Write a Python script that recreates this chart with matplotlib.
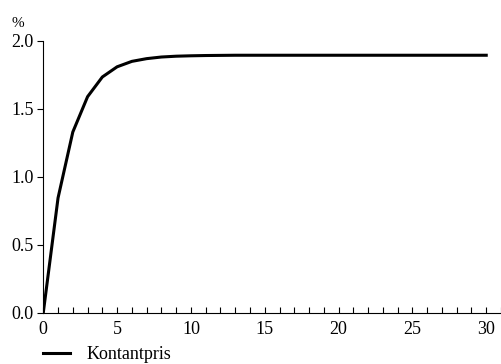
import matplotlib.pyplot as plt
from matplotlib.ticker import MultipleLocator

# kontantpris-kurve
years = list(range(0, 31))
kontantpris = [0.0, 0.845, 1.33, 1.59, 1.735, 1.81, 1.85, 1.87, 1.882, 1.888,
               1.891, 1.893, 1.894, 1.895, 1.895, 1.895, 1.895, 1.895, 1.895,
               1.895, 1.895, 1.895, 1.895, 1.895, 1.895, 1.895, 1.895, 1.895,
               1.895, 1.895, 1.895]

plt.rcParams['font.family'] = ['Liberation Serif', 'DejaVu Serif']
plt.rcParams['font.size'] = 13

fig = plt.figure(figsize=(5.01, 3.64), dpi=100)
ax = fig.add_axes([0.0864, 0.141, 0.9136, 0.7464])

ax.plot(years, kontantpris, color='black', linewidth=2.2, label='Kontantpris')

ax.set_xlim(0, 31)
ax.set_ylim(0, 2.0)
ax.xaxis.set_major_locator(MultipleLocator(5))
ax.xaxis.set_minor_locator(MultipleLocator(1))
ax.yaxis.set_major_locator(MultipleLocator(0.5))
ax.yaxis.set_major_formatter(plt.FormatStrFormatter('%.1f'))

for side in ['top', 'right']:
    ax.spines[side].set_visible(False)
for side in ['left', 'bottom']:
    ax.spines[side].set_linewidth(0.8)

ax.tick_params(axis='x', which='both', direction='in', length=4, width=0.8, pad=6)
ax.tick_params(axis='y', direction='out', length=4, width=0.8, pad=3)

fig.text(0.022, 0.935, '%', fontsize=11, ha='left', va='center')

fig.legend(loc='center left', bbox_to_anchor=(0.0864, 0.026), frameon=False,
           handlelength=1.5, handletextpad=0.9, borderpad=0, borderaxespad=0)

fig.savefig('out.png', dpi=100)
